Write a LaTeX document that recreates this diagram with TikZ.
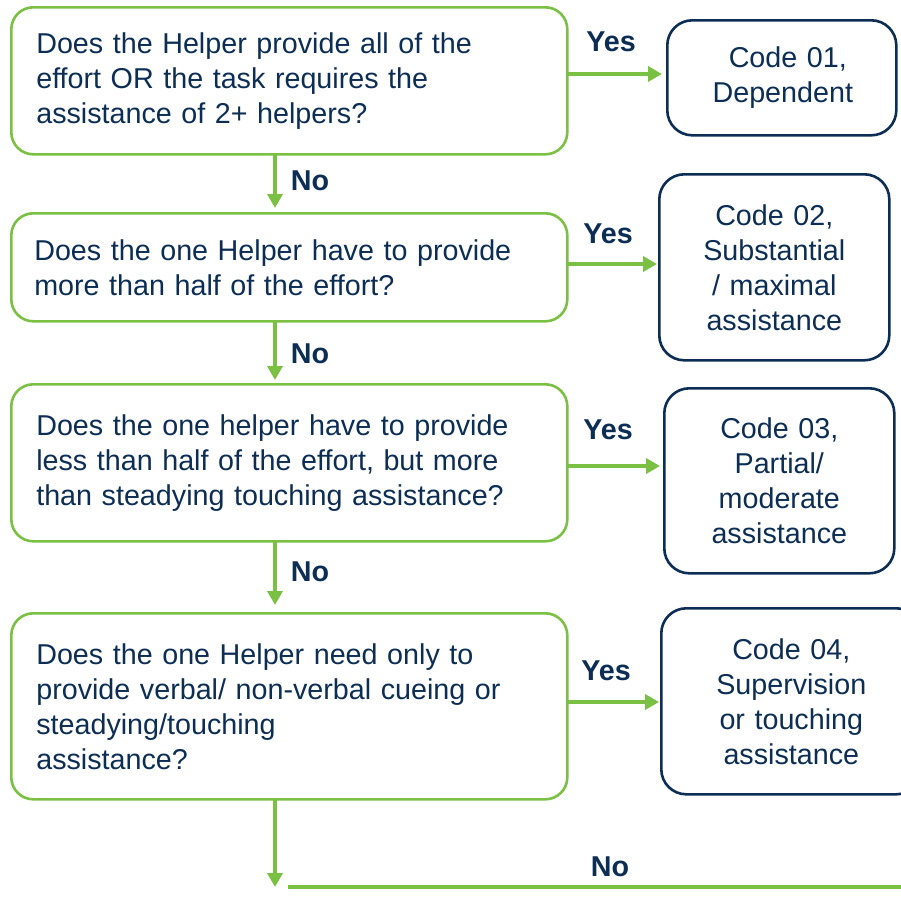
\documentclass[tikz,border=0pt]{standalone}
\usepackage{fontspec}
\setmainfont{Liberation Sans}
\usetikzlibrary{arrows.meta,calc}
\definecolor{gr}{HTML}{7AC143}
\definecolor{nv}{HTML}{0C2D54}
\begin{document}
\begin{tikzpicture}[x=1pt,y=-1pt,
  qbox/.style={draw=gr, line width=2.6pt, rounded corners=22pt, minimum width=556pt,
    text width=506pt, align=left, inner xsep=25pt, inner ysep=0pt, anchor=north west,
    font=\fontsize{28.7}{35}\selectfont, text=nv},
  cbox/.style={draw=nv, line width=2.6pt, rounded corners=25pt, align=center,
    inner sep=0pt, anchor=north west, font=\fontsize{28.7}{35}\selectfont, text=nv},
  lbl/.style={font=\bfseries\fontsize{28.7}{35}\selectfont, text=nv},
  arr/.style={draw=gr, line width=3.6pt, -{Triangle[length=14pt,width=15pt]}},
  gline/.style={draw=gr, line width=4pt}]
\useasboundingbox (0,0) rectangle (900,908);
% question boxes
\node[qbox, minimum height=147pt] (b1) at (10,6) {Does the Helper provide all of the\\effort OR the task requires the\\assistance of 2+ helpers?};
\node[qbox, minimum height=108pt, inner xsep=23pt, text width=510pt] (b2) at (10,212) {Does the one Helper have to provide\\more than half of the effort?};
\node[qbox, minimum height=157pt] (b3) at (10,383) {Does the one helper have to provide\\less than half of the effort, but more\\than steadying touching assistance?};
\node[qbox, minimum height=186pt] (b4) at (10,612) {Does the one Helper need only to\\provide verbal/ non-verbal cueing or\\steadying/touching\\assistance?};
% code boxes
\node[cbox, minimum width=229pt, minimum height=115pt, text width=229pt] (c1) at (666,19) {\hspace*{12pt}Code 01,\\\hspace*{2pt}Dependent};
\node[cbox, minimum width=230pt, minimum height=186pt, text width=230pt] (c2) at (658,173) {Code 02,\\Substantial\\/ maximal\\assistance};
\node[cbox, minimum width=230pt, minimum height=185pt, text width=230pt] (c3) at (663,387) {Code 03,\\Partial/\\moderate\\assistance};
\node[cbox, minimum width=260pt, minimum height=186pt, text width=260pt] (c4) at (660,607) {Code 04,\\Supervision\\or touching\\assistance};
% yes arrows
\coordinate (y1) at (566,74);
\coordinate (y2) at (566,264);
\coordinate (y3) at (566,466);
\coordinate (y4) at (566,702);
\draw[arr, shorten >=4pt] (y1) -- (y1 -| c1.west);
\draw[arr, shorten >=1pt] (y2) -- (y2 -| c2.west);
\draw[arr, shorten >=3pt] (y3) -- (y3 -| c3.west);
\draw[arr, shorten >=1pt] (y4) -- (y4 -| c4.west);
\node[lbl] (yes1) at (611,42) {Yes};
\node[lbl] (yes2) at (608,234) {Yes};
\node[lbl] (yes3) at (608,430) {Yes};
\node[lbl] (yes4) at (606,671) {Yes};
% no arrows
\coordinate (d1) at (275,153);
\coordinate (d2) at (275,320);
\coordinate (d3) at (275,540);
\draw[arr, shorten >=4pt] (d1) -- (d1 |- b2.north);
\draw[arr, shorten >=3pt] (d2) -- (d2 |- b3.north);
\draw[arr, shorten >=7pt] (d3) -- (d3 |- b4.north);
\node[lbl] (no1) at (310,181) {No};
\node[lbl] (no2) at (310,354) {No};
\node[lbl] (no3) at (310,572) {No};
% bottom
\coordinate (d4) at (275,798);
\coordinate (dend) at (275,887);
\draw[arr] (d4) -- (dend);
\coordinate (h0) at (288,887);
\coordinate (h1) at (902,887);
\draw[gline] (h0) -- (h1);
\node[lbl] (no4) at (610,867) {No};
\end{tikzpicture}
\end{document}
